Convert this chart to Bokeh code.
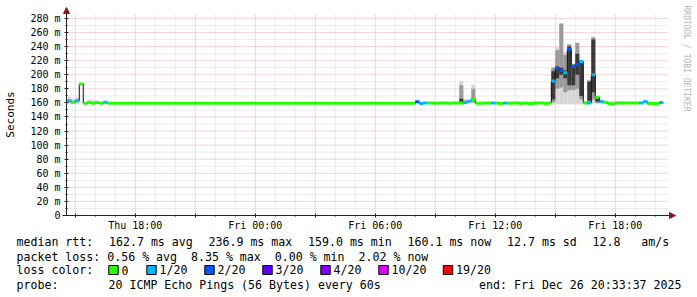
import math
from bokeh.plotting import figure
from bokeh.models import ColumnDataSource, FixedTicker, Label, Arrow, NormalHead, Range1d
from bokeh.embed import file_html
from bokeh.resources import INLINE

# ---------------- data ----------------
# time axis in hours since Thu 00:00
view_start_hour = 14 + 33 / 60 + 37 / 3600      # Thu 14:33:37
view_hours = 30.1
first_step_hour = 14.6                          # Thu 14:36 (12-minute RRD step boundary)
step_hours = 0.2                                # 12 minutes per consolidated step

median_ms = [
    163, 161, 163, 187, 159.5, 160.5, 159.5, 160.5, 159.5, 161,
    159.5, 159.5, 159.5, 159.5, 159.5, 159.5, 159.5, 159.5, 159.5, 159.5,
    159.5, 159.5, 159.5, 159.5, 159.5, 159.5, 159.5, 159.5, 159.5, 159.5,
    159.5, 159.5, 159.5, 159.5, 159.5, 159.5, 159.5, 159.5, 159.5, 159.5,
    159.5, 159.5, 159.5, 159.5, 159.5, 159.5, 159.5, 159.5, 159.5, 159.5,
    159.5, 159.5, 159.5, 159.5, 159.5, 159.5, 159.5, 159.5, 159.5, 159.5,
    159.5, 159.5, 159.5, 159.5, 159.5, 159.5, 159.5, 159.5, 159.5, 159.5,
    159.5, 159.5, 159.5, 159.5, 159.5, 159.5, 159.5, 159.5, 159.5, 159.5,
    159.5, 159.5, 159.5, 159.5, 159.5, 159.5, 159.5, 161.5, 159, 160,
    160, 160, 159.5, 160, 160, 159.5, 160, 160, 160, 160.6,
    162.5, 164.5, 159.5, 159.5, 160, 160, 159.8, 160, 159, 160,
    159.5, 160, 160, 159, 160, 159, 159, 160, 160, 159,
    160, 191, 209, 206, 203, 236, 212, 215, 219, 160,
    160, 200, 168, 162, 161, 159, 158.5, 160, 160, 160,
    160, 160, 160, 160, 162, 159, 159, 159, 160.5, None,
]

loss_count = [
    1, 0, 1, 0, 0, 0, 0, 0, 0, 1,
    0, 0, 0, 0, 0, 0, 0, 0, 0, 0,
    0, 0, 0, 0, 0, 0, 0, 0, 0, 0,
    0, 0, 0, 0, 0, 0, 0, 0, 0, 0,
    0, 0, 0, 0, 0, 0, 0, 0, 0, 0,
    0, 0, 0, 0, 0, 0, 0, 0, 0, 0,
    0, 0, 0, 0, 0, 0, 0, 0, 0, 0,
    0, 0, 0, 0, 0, 0, 0, 0, 0, 0,
    0, 0, 0, 0, 0, 0, 0, 2, 1, 1,
    0, 0, 0, 0, 0, 0, 0, 0, 0, 1,
    1, 0, 0, 0, 0, 0, 1, 0, 0, 1,
    0, 0, 0, 0, 0, 0, 0, 0, 0, 0,
    0, 1, 2, 2, 1, 2, 2, 2, 1, 0,
    1, 1, 0, 1, 0, 0, 0, 0, 0, 0,
    0, 0, 0, 1, 1, 0, 0, 0, 1, 0,
]

# smoke (ping spread) for the steps where it is visible
smoke_step = [0, 1, 2, 5, 6, 7, 98, 99, 101, 113, 114, 116,
              121, 122, 123, 124, 125, 126, 127, 128, 129, 130, 131, 132, 133,
              135, 136, 137, 138, 139]
smoke_lo = [158, 158, 158, 159, 159, 159, 159, 159, 159, 159, 159, 159,
            158, 158, 158, 158, 158, 158, 158, 158, 159, 159, 159, 159, 159,
            158, 158, 159, 159, 159]
smoke_p10 = [163, 161, 163, 160.5, 159.5, 160.5, 160, 160, 161, 159, 159, 159,
             161, 180, 182, 175, 178, 178, 180, 165, 159.5, 160, 165, 160, 160,
             158, 158, 159, 159, 159]
smoke_p25 = [163, 161, 163, 160.5, 159.5, 160.5, 161, 160, 163, 159, 159, 159,
             165, 195, 200, 195, 185, 185, 200, 170, 160, 163, 175, 162, 161,
             158, 158, 159, 159, 159]
smoke_p75 = [163, 161, 163, 160.5, 159.5, 160.5, 166, 161, 166, 159, 159, 159,
             205, 212, 210, 206, 240, 212, 230, 218, 160, 190, 250, 166, 163,
             158, 158, 159, 159, 159]
smoke_p90 = [163, 161, 163, 160.5, 159.5, 160.5, 185, 163, 180, 159, 159, 159,
             210, 235, 273, 228, 243, 215, 245, 220, 161, 192, 253, 168, 164,
             158, 158, 159, 159, 159]
smoke_hi = [168, 166, 168, 164, 165, 163, 191, 166, 186, 162, 162, 163,
            211, 239, 273, 232, 244, 216, 246, 220, 163, 193, 254, 170, 165,
            162, 163, 162.5, 162.5, 162.5]

loss_levels = [0, 1, 2, 3, 4, 10, 19]
loss_labels = ["0", "1/20", "2/20", "3/20", "4/20", "10/20", "19/20"]
loss_colors = ["#26ff00", "#00b8ff", "#0059ff", "#5e00ff", "#7e00ff", "#dd00ff", "#ff0000"]

x_grid_hours = [15, 18, 21, 24, 27, 30, 33, 36, 39, 42]
x_tick_hours = [18, 24, 30, 36, 42]
x_tick_labels = ["Thu 18:00", "Fri 00:00", "Fri 06:00", "Fri 12:00", "Fri 18:00"]
y_ticks = [0, 20, 40, 60, 80, 100, 120, 140, 160, 180, 200, 220, 240, 260, 280]
y_tick_labels = ["0", "20 m", "40 m", "60 m", "80 m", "100 m", "120 m", "140 m",
                 "160 m", "180 m", "200 m", "220 m", "240 m", "260 m", "280 m"]

rtt_legend = ["median rtt:", "162.7 ms avg", "236.9 ms max", "159.0 ms min",
              "160.1 ms now", "12.7 ms sd", "12.8   am/s"]
loss_legend = "packet loss: 0.56 % avg  8.35 % max  0.00 % min  2.02 % now"
probe_text = "20 ICMP Echo Pings (56 Bytes) every 60s"
end_text = "end: Fri Dec 26 20:33:37 2025"

# ---------------- layout ----------------
W, H = 697, 297
PLOT_LEFT, PLOT_BOTTOM, PLOT_W, PLOT_H = 66, 215, 602, 202
Y_TOP = 287.07
MONO = "DejaVu Sans Mono"
NBSP = "\u00a0"
x0 = view_start_hour
x1 = x0 + view_hours


def hx(px):
    return x0 + (px - PLOT_LEFT) / PLOT_W * view_hours


def vy(py):
    return (PLOT_BOTTOM - py) / PLOT_H * Y_TOP


p = figure(width=W, height=H,
           x_range=Range1d(hx(0), hx(W)), y_range=Range1d(vy(H), vy(0)),
           min_border_left=0, min_border_right=0, min_border_top=0, min_border_bottom=0,
           output_backend="svg", toolbar_location=None)
p.outline_line_color = None
p.background_fill_color = "white"
p.border_fill_color = "white"
p.xgrid.visible = False
p.ygrid.visible = False

# grid (bounded to the plot area)
x_minor = [h for h in range(15, 45) if h % 3 != 0]
y_minor = [v for v in range(10, 290, 20)]
MINOR_C, MAJOR_C = "#d6d6d6", "#eca8a8"
p.segment(x0=x_minor, x1=x_minor, y0=[0] * len(x_minor), y1=[Y_TOP] * len(x_minor),
          line_color=MINOR_C, line_dash="1 1", line_width=1)
p.segment(x0=[x0] * len(y_minor), x1=[x1] * len(y_minor), y0=y_minor, y1=y_minor,
          line_color=MINOR_C, line_dash="1 1", line_width=1)
p.segment(x0=x_grid_hours, x1=x_grid_hours, y0=[0] * len(x_grid_hours),
          y1=[Y_TOP] * len(x_grid_hours), line_color=MAJOR_C, line_dash="1 1", line_width=1)
p.segment(x0=[x0] * (len(y_ticks) - 1), x1=[x1] * (len(y_ticks) - 1), y0=y_ticks[1:],
          y1=y_ticks[1:], line_color=MAJOR_C, line_dash="1 1", line_width=1)

# axes placed at the plot area's edges
xa = p.xaxis[0]
xa.fixed_location = 0
xa.bounds = (hx(62), hx(670))
xa.ticker = FixedTicker(ticks=x_grid_hours, minor_ticks=x_minor)
ov = {h: "" for h in x_grid_hours}
ov.update(dict(zip(x_tick_hours, x_tick_labels)))
xa.major_label_overrides = ov
xa.major_tick_out = 2
xa.major_tick_in = 2
xa.minor_tick_out = 1
xa.minor_tick_in = 0
xa.major_label_standoff = 2

ya = p.yaxis[0]
ya.fixed_location = x0
ya.bounds = (0, Y_TOP)
ya.ticker = FixedTicker(ticks=y_ticks, minor_ticks=y_minor)
ya.major_label_overrides = dict(zip(y_ticks, y_tick_labels))
ya.major_tick_out = 2
ya.major_tick_in = 2
ya.minor_tick_out = 1
ya.minor_tick_in = 1
ya.major_label_standoff = 4

for ax in (xa, ya):
    ax.axis_line_color = "#222222"
    ax.major_tick_line_color = "#222222"
    ax.minor_tick_line_color = "#222222"
    ax.major_label_text_font = MONO
    ax.major_label_text_font_size = "10px"
    ax.major_label_text_color = "black"

# smoke
starts = [first_step_hour + step_hours * i for i in smoke_step]
ends = [s + step_hours for s in starts]
smoke = ColumnDataSource(dict(l=starts, r=ends, lo=smoke_lo, p10=smoke_p10,
                              p25=smoke_p25, p75=smoke_p75, p90=smoke_p90, hi=smoke_hi))
p.quad(left="l", right="r", bottom="lo", top="hi", source=smoke,
       fill_color="#d6d6d6", line_color=None)
p.quad(left="l", right="r", bottom="p10", top="p90", source=smoke,
       fill_color="#9a9a9a", line_color=None)
p.quad(left="l", right="r", bottom="p25", top="p75", source=smoke,
       fill_color="#3a3a3a", line_color=None)


# median: thin dark step line + thick loss-coloured segments
def loss_color(n):
    c = loss_colors[0]
    for lv, col in zip(loss_levels, loss_colors):
        if n >= lv:
            c = col
    return c


lx, ly = [], []
seg = dict(x0=[], x1=[], y=[], c=[])
for i, m in enumerate(median_ms):
    t = first_step_hour + step_hours * i
    if m is None:
        lx.append(float("nan"))
        ly.append(float("nan"))
        continue
    lx += [t, t + step_hours]
    ly += [m, m]
    seg["x0"].append(t)
    seg["x1"].append(t + step_hours)
    seg["y"].append(m)
    seg["c"].append(loss_color(loss_count[i]))

p.line(lx, ly, line_color="#111111", line_width=1)
p.segment(x0="x0", x1="x1", y0="y", y1="y", line_color="c", line_width=3,
          line_cap="butt", source=ColumnDataSource(seg))

# axis arrows
head_col = "#8b1a1a"
p.add_layout(Arrow(end=NormalHead(size=6, fill_color=head_col, line_color=head_col),
                   x_start=hx(669), y_start=0, x_end=hx(675), y_end=0,
                   line_color="#222222", line_width=1))
p.add_layout(Arrow(end=NormalHead(size=6, fill_color=head_col, line_color=head_col),
                   x_start=x0, y_start=Y_TOP, x_end=x0, y_end=vy(7),
                   line_color="#222222", line_width=1))


def txt(px, py, s, align="left", size="11.6px", color="black", angle=0.0, font=MONO):
    p.add_layout(Label(x=hx(px), y=vy(py), text=s.replace(" ", NBSP), text_font=font,
                       text_font_size=size, text_color=color, text_align=align,
                       text_baseline="middle", angle=angle))


# axis title
txt(10, 114, "Seconds", align="center", size="11px", angle=math.pi / 2)

# legend lines
rtt_x = [16, 108.5, 208, 307.5, 407, 506.5, 592]
for px, s in zip(rtt_x, rtt_legend):
    txt(px, 241, s)
txt(16, 256, loss_legend)
txt(16, 269.5, "loss color:")
box_x = [108.5, 146.5, 204.5, 262.5, 320.5, 378.5, 443]
for bx, lab, col in zip(box_x, loss_labels, loss_colors):
    p.add_layout(Label(x=hx(bx + 4.5), y=vy(269.5), text=NBSP + NBSP, text_font=MONO,
                       text_font_size="4.5px", text_align="center", text_baseline="middle",
                       background_fill_color=col, border_line_color="black",
                       border_line_width=1, padding=2))
    txt(bx + 12.5, 269.5, lab)
txt(16, 284, "probe:")
txt(108, 284, probe_text)
txt(681, 284, end_text, align="right")

# vertical watermark
txt(686, 5, "RRDTOOL / TOBI OETIKER", size="8px", color="#b4b4b4", angle=-math.pi / 2)

open("out.html", "w").write(file_html(p, INLINE))
